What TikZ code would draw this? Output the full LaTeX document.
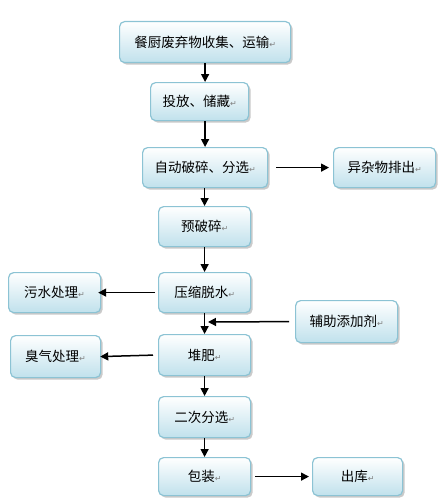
\documentclass[tikz,border=0pt]{standalone}
\usepackage{fontspec}
\setmainfont{Noto Sans CJK SC}
\newfontfamily\markfont{DejaVu Sans}
\usetikzlibrary{shadows,arrows.meta}
\definecolor{boxedge}{RGB}{140,195,212}
\definecolor{boxbot}{RGB}{192,225,236}
\newcommand{\parmark}{{\markfont\fontsize{8}{8}\selectfont\color{gray}↵}}
\tikzset{
  flowbox/.style={draw=boxedge, line width=1.2pt, rounded corners=5pt,
    top color=white, bottom color=boxbot,
    drop shadow={shadow xshift=2pt, shadow yshift=-2pt, fill=black!35, opacity=0.6},
    font=\fontsize{13.5}{15}\selectfont, inner sep=0pt, anchor=north west},
  flowarrow/.style={-{Triangle[length=8pt,width=8pt]}, line width=1.5pt, black}
}
\begin{document}
\begin{tikzpicture}[x=1pt,y=-1pt]
\useasboundingbox (0,0) rectangle (446,503);
\newcommand{\bx}[6]{\node[flowbox, minimum width=#4pt, minimum height=#5pt] (#1) at (#2,#3) {#6\parmark};}
\bx{a}{119}{21}{171}{41}{餐厨废弃物收集、运输}
\bx{b}{150}{82}{98}{38}{投放、储藏}
\bx{c}{142}{147}{125}{40}{自动破碎、分选}
\bx{d}{333}{147}{102}{40}{异杂物排出}
\bx{e}{158}{206}{92}{40}{预破碎}
\bx{f}{158}{272}{92}{40}{压缩脱水}
\bx{g}{8}{272}{92}{40}{污水处理}
\bx{h}{295}{300}{102}{42}{辅助添加剂}
\bx{i}{158}{334}{92}{41}{堆肥}
\bx{j}{10}{335}{90}{42}{臭气处理}
\bx{k}{158}{396}{92}{41}{二次分选}
\bx{l}{158}{457}{92}{38}{包装}
\bx{m}{312}{457}{90}{38}{出库}
\coordinate (aj) at (204,322);
\draw[flowarrow] (a.south) -- (a.south |- b.north);
\draw[flowarrow] (b.south -| c.north) -- (c.north);
\draw[flowarrow] (c.south -| e.north) -- (e.north);
\draw[flowarrow] (e.south) -- (f.north);
\draw[flowarrow] (f.south) -- (i.north);
\draw[flowarrow] (i.south) -- (k.north);
\draw[flowarrow] (k.south) -- (l.north);
\draw[flowarrow] ([xshift=8pt]c.east) -- ([xshift=-4pt]d.west);
\draw[flowarrow] ([xshift=-3pt]f.west) -- ([xshift=-3pt]g.east);
\draw[flowarrow] ([xshift=-6pt]h.west) -- ([xshift=4pt]aj);
\draw[flowarrow] ([xshift=-5pt]i.west) -- ([xshift=-1pt]j.east);
\draw[flowarrow] ([xshift=4pt]l.east) -- ([xshift=-3pt]m.west);
\end{tikzpicture}
\end{document}
